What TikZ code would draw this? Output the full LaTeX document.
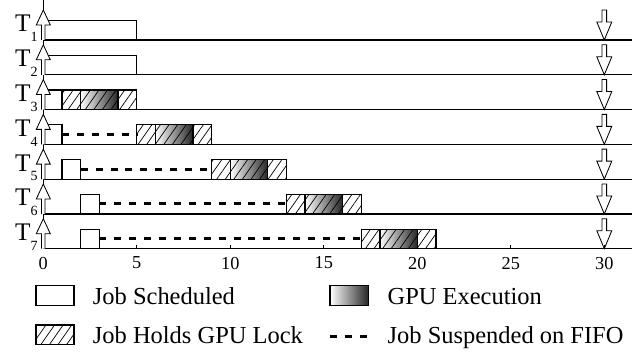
\documentclass[tikz,border=0pt]{standalone}
\usepackage{fontspec}
\setmainfont{Liberation Serif}
\usetikzlibrary{patterns.meta}

\begin{document}
\begin{tikzpicture}[x=0.4675cm, y=0.025cm,
    every node/.style={inner sep=0pt},
    hatch/.style={pattern={Lines[angle=55, distance=5pt, line width=0.5pt]}},
    gpu/.style={left color=white, right color=black!85},
    sched/.style={draw, fill=white, line width=0.9pt},
    lock/.style={draw, line width=0.9pt, hatch},
    exec/.style={draw, line width=0.9pt, gpu, postaction={hatch}},
    susp/.style={line width=2.2pt, dash pattern=on 5pt off 5.6pt},
    hollow/.style={draw, fill=white, line width=0.6pt},
    legendtext/.style={anchor=base west, font=\fontsize{17.4}{20}\selectfont}]
        \useasboundingbox (-2.316,-105.2) rectangle (32.07,248.8);
        \draw[line width=0.8pt] (0,0)--(0,248.8);
        \foreach \k in {1,...,7}{
            \pgfmathsetmacro\y{(7-\k)*34.8}
            \draw[line width=0.9pt] (0,\y)--(31.5,\y);
        }
        \draw[sched] (0,208.8) rectangle (5,228.3);
        \draw[sched] (0,174) rectangle (5,193.5);
        \foreach \k/\s/\w in {3/0/1,4/0/5,5/1/9,6/2/13,7/2/17}{
            \pgfmathsetmacro\y{(7-\k)*34.8}
            \draw[sched] (\s,\y) rectangle (\s+1,\y+19.5);
            \ifnum\w>\numexpr\s+1\relax \draw[susp] (\s+1,\y+10)--(\w,\y+10); \fi
            \draw[lock] (\w,\y) rectangle (\w+1,\y+19.5);
            \draw[exec] (\w+1,\y) rectangle (\w+3,\y+19.5);
            \draw[lock] (\w+3,\y) rectangle (\w+4,\y+19.5);
        }
        \foreach \k in {1,...,7}{
            \pgfmathsetmacro\y{(7-\k)*34.8}
            \draw[hollow] (-0.094,\y)--(-0.094,\y+15)--(-0.374,\y+15)--(0,\y+30)--(0.374,\y+15)--(0.094,\y+15)--(0.094,\y);
            \draw[hollow] (29.875,\y+30)--(29.875,\y+18)--(29.6,\y+18)--(30,\y)--(30.4,\y+18)--(30.125,\y+18)--(30.125,\y+30)--cycle;
            \node[anchor=base west, font=\fontsize{18}{20}\selectfont] (t\k) at (-1.52,\y+8) {T\raisebox{-7pt}{\fontsize{10}{12}\selectfont\k}};
        }
        \foreach \t in {5,10,...,30}
            \draw[line width=0.8pt] (\t,0)--(\t,4);
        \foreach \t in {0,5,...,30}
            \node[anchor=north, font=\fontsize{13}{15}\selectfont] (n\t) at (\t,-7.9) {\t};
        \draw[sched] (-0.39,-56.9) rectangle (1.64,-36.9);
        \node[legendtext] (lsched) at (2.64,-56.2) {Job Scheduled};
        \draw[lock] (-0.39,-95.5) rectangle (1.64,-76.2);
        \node[legendtext] (llock) at (2.64,-95.2) {Job Holds GPU Lock};
        \draw[line width=0.9pt, gpu] (15.33,-56.9) rectangle (17.38,-36.9);
        \node[legendtext] (lexec) at (18.40,-56.2) {GPU Execution};
        \draw[susp] (15.33,-87.9)--(17.38,-87.9);
        \node[legendtext] (lsusp) at (18.40,-95.2) {Job Suspended on FIFO};
    \end{tikzpicture}
\end{document}
